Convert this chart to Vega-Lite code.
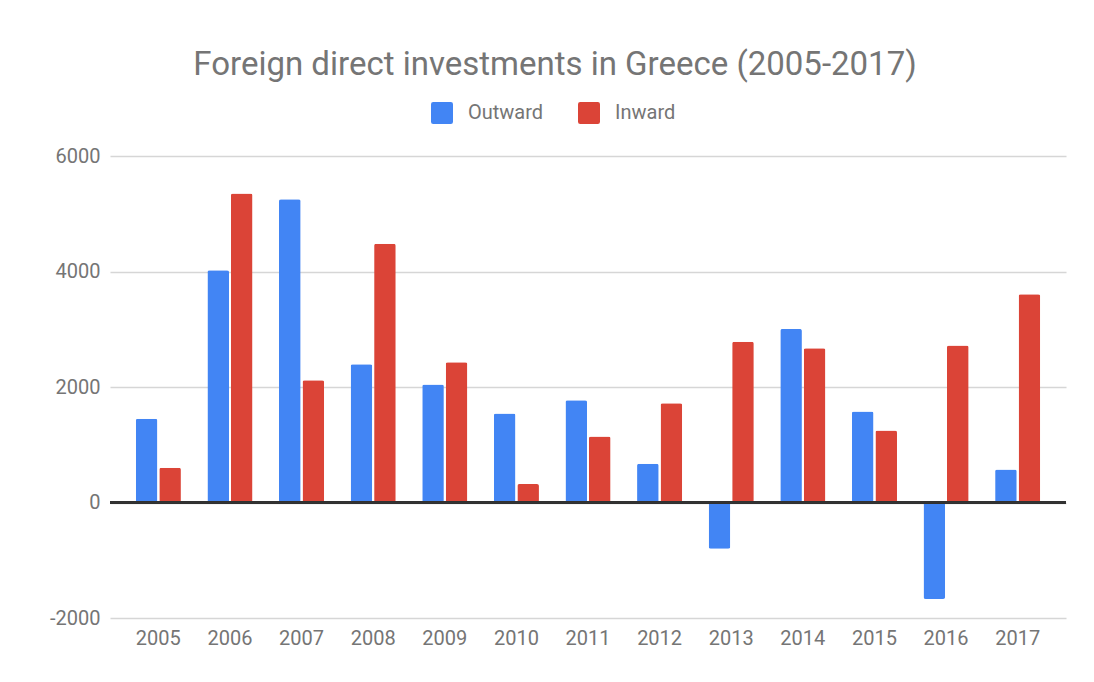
{
  "$schema": "https://vega.github.io/schema/vega-lite/v6.json",
  "autosize": "none",
  "width": 956,
  "height": 462,
  "padding": {"left": 110, "top": 156, "right": 28, "bottom": 64},
  "background": "white",
  "config": {
    "font": "Roboto",
    "view": {"stroke": null}
  },
  "title": {
    "text": "Foreign direct investments in Greece (2005-2017)",
    "fontSize": 33,
    "fontWeight": "normal",
    "color": "#757575",
    "anchor": "middle",
    "frame": "group",
    "dx": -33,
    "offset": 20
  },
  "data": {
    "values": [
      {"year": "2005", "series": "Outward", "value": 1450},
      {"year": "2005", "series": "Inward", "value": 600},
      {"year": "2006", "series": "Outward", "value": 4020},
      {"year": "2006", "series": "Inward", "value": 5350},
      {"year": "2007", "series": "Outward", "value": 5250},
      {"year": "2007", "series": "Inward", "value": 2115},
      {"year": "2008", "series": "Outward", "value": 2395},
      {"year": "2008", "series": "Inward", "value": 4480},
      {"year": "2009", "series": "Outward", "value": 2045},
      {"year": "2009", "series": "Inward", "value": 2430},
      {"year": "2010", "series": "Outward", "value": 1540},
      {"year": "2010", "series": "Inward", "value": 320},
      {"year": "2011", "series": "Outward", "value": 1770},
      {"year": "2011", "series": "Inward", "value": 1145},
      {"year": "2012", "series": "Outward", "value": 670},
      {"year": "2012", "series": "Inward", "value": 1720},
      {"year": "2013", "series": "Outward", "value": -800},
      {"year": "2013", "series": "Inward", "value": 2785},
      {"year": "2014", "series": "Outward", "value": 3005},
      {"year": "2014", "series": "Inward", "value": 2670},
      {"year": "2015", "series": "Outward", "value": 1577},
      {"year": "2015", "series": "Inward", "value": 1248},
      {"year": "2016", "series": "Outward", "value": -1670},
      {"year": "2016", "series": "Inward", "value": 2720},
      {"year": "2017", "series": "Outward", "value": 570},
      {"year": "2017", "series": "Inward", "value": 3605}
    ]
  },
  "layer": [
    {
      "mark": {"type": "bar", "cornerRadius": 2},
      "encoding": {
        "x": {
          "field": "year",
          "type": "nominal",
          "scale": {"paddingInner": 0.37, "paddingOuter": 0.36},
          "axis": {
            "title": null,
            "labelAngle": 0,
            "labelFontSize": 20,
            "labelColor": "#757575",
            "labelPadding": 10,
            "ticks": false,
            "domain": false,
            "grid": false
          }
        },
        "xOffset": {
          "field": "series",
          "type": "nominal",
          "sort": ["Outward", "Inward"],
          "scale": {"paddingInner": 0.08}
        },
        "y": {
          "field": "value",
          "type": "quantitative",
          "scale": {"domain": [-2000, 6000], "nice": false},
          "axis": {
            "title": null,
            "values": [-2000, 0, 2000, 4000, 6000],
            "labelExpr": "'' + datum.value",
            "labelFontSize": 20,
            "labelColor": "#757575",
            "labelPadding": 10,
            "ticks": false,
            "domain": false,
            "gridColor": "#d6d6d6",
            "gridWidth": 1.5
          }
        },
        "color": {
          "field": "series",
          "type": "nominal",
          "sort": ["Outward", "Inward"],
          "scale": {"domain": ["Outward", "Inward"], "range": ["#4285F4", "#DB4437"]},
          "legend": {
            "title": null,
            "orient": "none",
            "direction": "horizontal",
            "legendX": 321,
            "legendY": -54,
            "symbolType": "M-1,-0.8Q-1,-1,-0.8,-1L0.8,-1Q1,-1,1,-0.8L1,0.8Q1,1,0.8,1L-0.8,1Q-1,1,-1,0.8Z",
            "symbolSize": 484,
            "symbolStrokeWidth": 0,
            "labelFontSize": 20,
            "labelColor": "#757575",
            "labelOffset": 15,
            "columnPadding": 34
          }
        }
      }
    },
    {
      "mark": {"type": "rule", "color": "#333333", "strokeWidth": 1.5},
      "encoding": {"y": {"datum": 0}}
    }
  ]
}
